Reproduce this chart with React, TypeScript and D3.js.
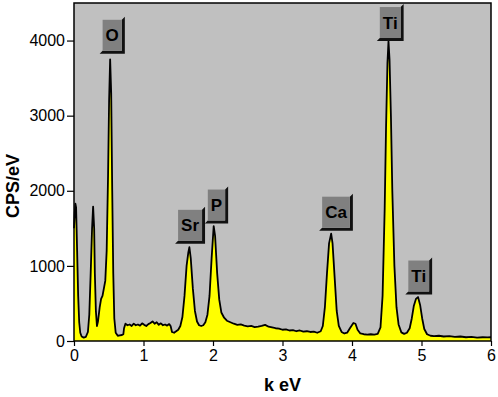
import { useEffect, useRef } from 'react'
import * as d3 from 'd3'

const W = 498
const H = 397
const MARGIN = { top: 3, right: 7, bottom: 56, left: 74 }

// spectrum: energy (keV) and counts (CPS/eV)
const ENERGY = [
  0.00, 0.01, 0.02, 0.03, 0.045, 0.06, 0.075, 0.09, 0.11, 0.14, 0.17, 0.20, 0.22, 0.24, 0.26, 0.275, 0.29, 0.30, 0.315, 0.33,
  0.345, 0.37, 0.39, 0.41, 0.43, 0.45, 0.47, 0.49, 0.505, 0.52, 0.535, 0.55, 0.565, 0.58, 0.60, 0.63, 0.66, 0.69, 0.71, 0.72,
  0.74, 0.77, 0.80, 0.83, 0.86, 0.89, 0.92, 0.95, 0.98, 1.01, 1.04, 1.07, 1.10, 1.13, 1.16, 1.19, 1.22, 1.25, 1.28, 1.31,
  1.34, 1.37, 1.39, 1.41, 1.44, 1.47, 1.50, 1.53, 1.56, 1.59, 1.62, 1.645, 1.66, 1.68, 1.71, 1.74, 1.77, 1.80, 1.83, 1.86,
  1.89, 1.92, 1.95, 1.98, 2.01, 2.03, 2.06, 2.09, 2.12, 2.16, 2.20, 2.25, 2.30, 2.35, 2.40, 2.45, 2.50, 2.55, 2.60, 2.65,
  2.70, 2.75, 2.80, 2.85, 2.90, 2.95, 3.00, 3.05, 3.10, 3.15, 3.20, 3.25, 3.30, 3.35, 3.40, 3.45, 3.50, 3.55, 3.58, 3.61,
  3.64, 3.67, 3.70, 3.72, 3.75, 3.78, 3.81, 3.85, 3.89, 3.93, 3.97, 4.02, 4.05, 4.08, 4.12, 4.17, 4.22, 4.27, 4.32, 4.37,
  4.41, 4.44, 4.47, 4.49, 4.51, 4.525, 4.54, 4.56, 4.58, 4.61, 4.64, 4.67, 4.71, 4.75, 4.79, 4.83, 4.86, 4.89, 4.92, 4.95,
  4.98, 5.01, 5.04, 5.08, 5.13, 5.18, 5.25, 5.32, 5.40, 5.48, 5.56, 5.64, 5.72, 5.80, 5.88, 5.95, 6.00,
]
const CPS = [
  1500, 1700, 1830, 1780, 1200, 600, 250, 110, 60, 45, 55, 120, 350, 900, 1500, 1790, 1500, 900, 400, 200,
  260, 450, 560, 600, 700, 800, 1200, 2200, 3200, 3750, 3300, 2000, 900, 300, 110, 70, 75, 80, 90, 170,
  230, 210, 220, 200, 230, 210, 220, 205, 235, 215, 200, 225, 240, 260, 230, 250, 215, 235, 210, 220,
  205, 225, 200, 120, 110, 130, 150, 200, 320, 600, 1000, 1180, 1250, 1100, 700, 400, 260, 210, 200, 210,
  250, 350, 600, 1100, 1530, 1400, 900, 550, 380, 310, 270, 250, 230, 215, 220, 205, 195, 200, 185, 190,
  200, 215, 190, 180, 170, 165, 150, 155, 140, 145, 130, 140, 125, 130, 120, 125, 110, 130, 200, 450,
  900, 1300, 1430, 1300, 850, 400, 200, 120, 100, 110, 170, 240, 230, 150, 100, 90, 85, 90, 85, 95,
  180, 600, 1750, 2850, 3700, 3990, 3750, 3000, 2000, 1000, 450, 220, 115, 95, 110, 170, 300, 470, 560, 585,
  480, 300, 160, 90, 70, 65, 70, 60, 65, 55, 60, 50, 55, 45, 50, 48, 50,
]

// element labels and where their tags sit (keV, CPS/eV of tag centre)
const ELEMENTS = ['O', 'Sr', 'P', 'Ca', 'Ti', 'Ti']
const TAG_KEV = [0.55, 1.67, 2.05, 3.77, 4.55, 4.96]
const TAG_CPS = [4070, 1540, 1810, 1715, 4240, 865]

const X_TICKS = [0, 1, 2, 3, 4, 5, 6]
const Y_TICKS = [0, 1000, 2000, 3000, 4000]

const FONT = 'Arial, "Liberation Sans", sans-serif'

export default function App() {
  const svgRef = useRef<SVGSVGElement>(null)

  useEffect(() => {
    if (!svgRef.current) return
    const iW = W - MARGIN.left - MARGIN.right
    const iH = H - MARGIN.top - MARGIN.bottom

    const x = d3.scaleLinear().domain([0, 6]).range([0, iW])
    const y = d3.scaleLinear().domain([0, 4500]).range([iH, 0])

    const svg = d3.select(svgRef.current)
    svg.selectAll('*').remove()

    const g = svg.append('g').attr('transform', `translate(${MARGIN.left},${MARGIN.top})`)

    // plot background
    g.append('rect').attr('width', iW).attr('height', iH).attr('fill', '#c0c0c0')

    const pts = ENERGY.map((e, i) => [e, CPS[i]] as [number, number])

    const area = d3.area<[number, number]>()
      .x(d => x(d[0]))
      .y0(y(0))
      .y1(d => y(d[1]))
    g.append('path').datum(pts).attr('fill', '#ffff00').attr('d', area)

    const line = d3.line<[number, number]>()
      .x(d => x(d[0]))
      .y(d => y(d[1]))
    g.append('path').datum(pts)
      .attr('fill', 'none')
      .attr('stroke', '#000')
      .attr('stroke-width', 1.8)
      .attr('stroke-linejoin', 'round')
      .attr('d', line)

    // frame
    g.append('rect').attr('width', iW).attr('height', iH)
      .attr('fill', 'none').attr('stroke', '#000').attr('stroke-width', 1.5)

    // x axis: major + minor ticks
    const xAx = g.append('g').attr('transform', `translate(0,${iH})`)
    xAx.call(d3.axisBottom(x).tickValues(d3.range(0.5, 6, 1)).tickSize(3).tickFormat(() => ''))
    xAx.call(d3.axisBottom(x).tickValues(X_TICKS).tickSize(5).tickPadding(4).tickFormat(d3.format('d')))
    xAx.selectAll('.domain').remove()
    xAx.selectAll('text').attr('font-size', 16).attr('font-family', FONT).attr('fill', '#000')
    xAx.selectAll('.tick line').attr('stroke', '#000').attr('stroke-width', 1.2)

    // y axis
    const yAx = g.append('g')
    yAx.call(d3.axisLeft(y).tickValues([500, 1500, 2500, 3500]).tickSize(4).tickFormat(() => ''))
    yAx.call(d3.axisLeft(y).tickValues(Y_TICKS).tickSize(7).tickPadding(2).tickFormat(d3.format('d')))
    yAx.selectAll('.domain').remove()
    yAx.selectAll('text').attr('font-size', 16).attr('font-family', FONT).attr('fill', '#000')
    yAx.selectAll('.tick line').attr('stroke', '#000').attr('stroke-width', 1.2)

    // axis titles
    svg.append('text')
      .attr('x', MARGIN.left + iW / 2).attr('y', 391)
      .attr('text-anchor', 'middle')
      .attr('font-family', FONT).attr('font-weight', 'bold').attr('font-size', 18)
      .text('k eV')
    svg.append('text')
      .attr('transform', `translate(19,${MARGIN.top + iH / 2 + 14}) rotate(-90)`)
      .attr('text-anchor', 'middle')
      .attr('font-family', FONT).attr('font-weight', 'bold').attr('font-size', 18)
      .text('CPS/eV')

    // element tags
    ELEMENTS.forEach((el, i) => {
      const cx = x(TAG_KEV[i])
      const cy = y(TAG_CPS[i])
      const tag = g.append('g')
      const txt = tag.append('text')
        .attr('x', cx).attr('y', cy + 6)
        .attr('text-anchor', 'middle')
        .attr('font-family', FONT).attr('font-weight', 'bold').attr('font-size', 17)
        .attr('fill', '#000')
        .text(el)
      const tw = (txt.node() as SVGTextElement).getComputedTextLength()
      const w = tw + 6
      const h = 31
      const bx = cx - w / 2
      const by = cy - h / 2
      tag.insert('polygon', 'text')
        .attr('points', [
          [bx + w, by], [bx + w + 3, by - 3], [bx + w + 3, by + h + 3],
          [bx - 3, by + h + 3], [bx, by + h], [bx + w, by + h],
        ].map(p => p.join(',')).join(' '))
        .attr('fill', '#111')
      tag.insert('rect', 'text')
        .attr('x', bx).attr('y', by).attr('width', w).attr('height', h)
        .attr('fill', '#808080')
    })
  }, [])

  return (
    <div style={{ position: 'absolute', left: 0, top: 0 }}>
      <svg ref={svgRef} width={W} height={H} style={{ display: 'block', background: '#fff' }} />
    </div>
  )
}
